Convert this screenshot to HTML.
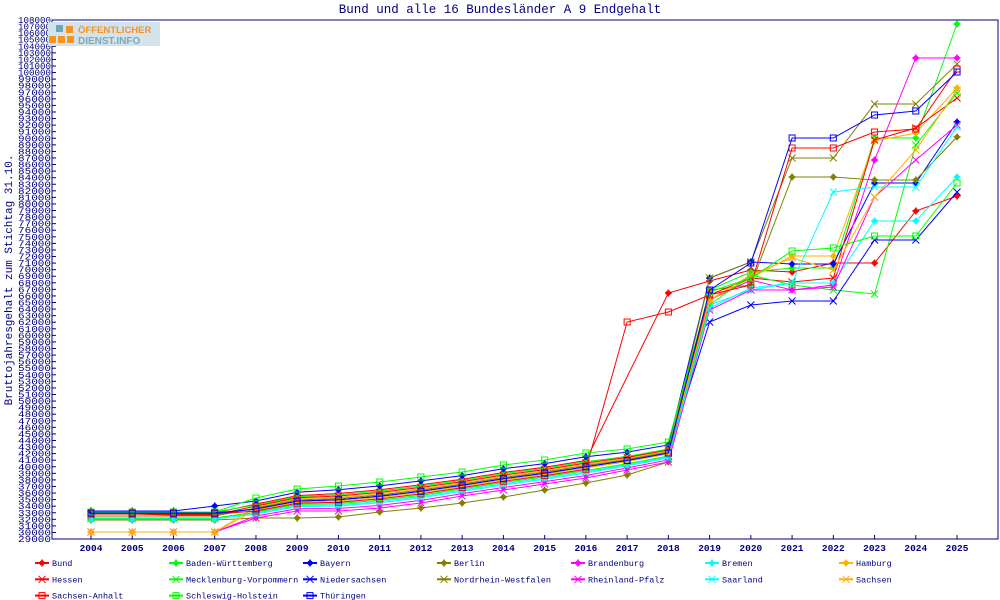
<!DOCTYPE html>
<html><head><meta charset="utf-8"><style>
body{margin:0;background:#fff;width:1000px;height:600px;overflow:hidden}
svg{display:block}
text{font-family:"Liberation Mono","DejaVu Sans Mono",monospace;fill:#000080}
</style></head><body>
<svg id="c" width="1000" height="600" xmlns="http://www.w3.org/2000/svg"></svg>
<script>
const s=document.getElementById('c');let h='';
const L=52,T=20,R=998,B=539;
const yv=v=>T+(108000-v)/1000*6.57;
const xs=i=>91+i*41.24;
h+=`<text x="500" y="13" text-anchor="middle" font-size="12.5">Bund und alle 16 Bundesländer A 9 Endgehalt</text>`;
h+=`<rect x="${L}" y="${T}" width="${R-L}" height="${B-T}" fill="none" stroke="#000080" stroke-width="1"/>`;
for(let v=29000;v<=108000;v+=1000){const y=yv(v);h+=`<line x1="${L}" y1="${y}" x2="${L+4}" y2="${y}" stroke="#000080"/><text x="51" y="${y+3}" text-anchor="end" font-size="9" textLength="33" lengthAdjust="spacingAndGlyphs">${v}</text>`;}
for(let i=0;i<22;i++){const x=xs(i);h+=`<line x1="${x}" y1="${B-4}" x2="${x}" y2="${B}" stroke="#000080"/><text x="${x}" y="551" text-anchor="middle" font-size="9.5" font-weight="bold">${2004+i}</text>`;}
h+=`<text transform="translate(12,280) rotate(-90)" text-anchor="middle" font-size="11">Bruttojahresgehalt zum Stichtag 31.10.</text>`;
h+=`<rect x="48" y="22" width="112" height="24" fill="#d3e3ec"/><rect x="56" y="25" width="7" height="7" fill="#6aa9b8"/><rect x="66" y="26" width="7" height="7" fill="#f7931e"/><rect x="49" y="36" width="7" height="7" fill="#f7931e"/><rect x="58" y="36" width="7" height="7" fill="#f7931e"/><rect x="67" y="36" width="7" height="7" fill="#f7931e"/>`;
h+=`<text x="78" y="33" font-size="9.5" font-weight="bold" style="fill:#f7931e;font-family:'Liberation Sans',sans-serif">ÖFFENTLICHER</text><text x="78" y="44" font-size="10" font-weight="bold" style="fill:#7fa8b8;font-family:'Liberation Sans',sans-serif">DIENST.INFO</text>`;
const Tp=[498,489,486,482,477,472,465,460,453,449,442],Bt=[518,511,511,508,503,496,490,484,478,470,462];
const mid=f=>Tp.map((t,i)=>t+(Bt[i]-t)*f);
const S=[
["Bund","#f00","o",[513,513,513,513],0.3,[281,270,272,263,263,211,196]],
["Baden-Württemberg","#0f0","o",[512,512,512,512],0.35,[290,272,268,268,138,138,24]],
["Bayern","#00f","o",[511,511,511,506],0.15,[278,262,264,264,183,183,122]],
["Berlin","#808000","o",[520,520,520,520],null,[290,285,177,177,180,180,137]],
["Brandenburg","#f0f","o",[532,532,532,532],0.9,[300,280,290,285,160,58,58]],
["Bremen","#0ff","o",[519,519,519,519],0.75,[305,290,283,283,221,221,177]],
["Hamburg","#ffb000","o",[532,532,532,532],0.45,[300,278,256,256,141,133,88]],
["Hessen","#f00","x",[514,514,515,515],0.4,[295,278,282,278,140,128,98]],
["Mecklenburg-Vorpommern","#0f0","x",[518,518,518,518],0.7,[305,275,285,290,294,145,93]],
["Niedersachsen","#00f","x",[514,514,514,514],0.55,[322,305,301,301,240,240,192]],
["Nordrhein-Westfalen","#808000","x",[516,516,516,516],0.5,[278,262,158,158,104,104,64]],
["Rheinland-Pfalz","#f0f","x",[532,532,532,532],1,[310,290,290,287,197,160,125]],
["Saarland","#0ff","x",[519,519,519,519],0.8,[308,288,283,192,187,187,127]],
["Sachsen","#ffb000","x",[532,532,532,532],0.6,[300,275,258,270,197,150,90]],
["Sachsen-Anhalt","#f00","s",[514,514,514,514],0.65,[295,285,148,148,132,129,69]],
["Schleswig-Holstein","#0f0","s",[512,512,512,512],0,[292,278,251,248,236,236,183]],
["Thüringen","#00f","s",[513,513,513,513],0.55,[290,263,138,138,115,111,72]]];
function mk(t,x,y,c){if(t=="o")return `<circle cx="${x}" cy="${y}" r="2.6" fill="${c}"/><path d="M${x-3.5} ${y}h7M${x} ${y-3.5}v7" stroke="${c}" stroke-width="1.5"/>`;
if(t=="x")return `<path d="M${x-3.5} ${y-3.5}l7 7M${x+3.5} ${y-3.5}l-7 7" stroke="${c}" stroke-width="1"/>`;
return `<rect x="${x-3}" y="${y-3}" width="6" height="6" fill="none" stroke="${c}" stroke-width="1"/>`;}
S.forEach((d,k)=>{let mids;
 if(d[4]===null)mids=[518,518,517,512,508,503,497,490,483,475,462];else mids=mid(d[4]);
 let ys=d[3].concat(mids,d[5]);
 if(d[0]=="Sachsen-Anhalt"){ys[13]=322;ys[14]=312;}
 if(d[0]=="Bund"){ys[14]=293;}
 const pts=ys.map((y,i)=>[xs(i),y]).filter((p,i)=>!(d[0]=="Bund"&&i==13));
 h+=`<polyline points="${pts.map(p=>p.join(',')).join(' ')}" fill="none" stroke="${d[1]}" stroke-width="1"/>`;
 pts.forEach(p=>h+=mk(d[2],p[0],p[1],d[1]));
 const col=k%7,row=Math.floor(k/7);const lx=35+col*134,ly=563+row*16.3;
 h+=`<line x1="${lx}" y1="${ly}" x2="${lx+14}" y2="${ly}" stroke="${d[1]}" stroke-width="2"/>`+mk(d[2],lx+7,ly,d[1]);
 h+=`<text x="${lx+17}" y="${ly+3}" font-size="8.5">${d[0]}</text>`;
});
s.innerHTML=h;
</script>
</body></html>
